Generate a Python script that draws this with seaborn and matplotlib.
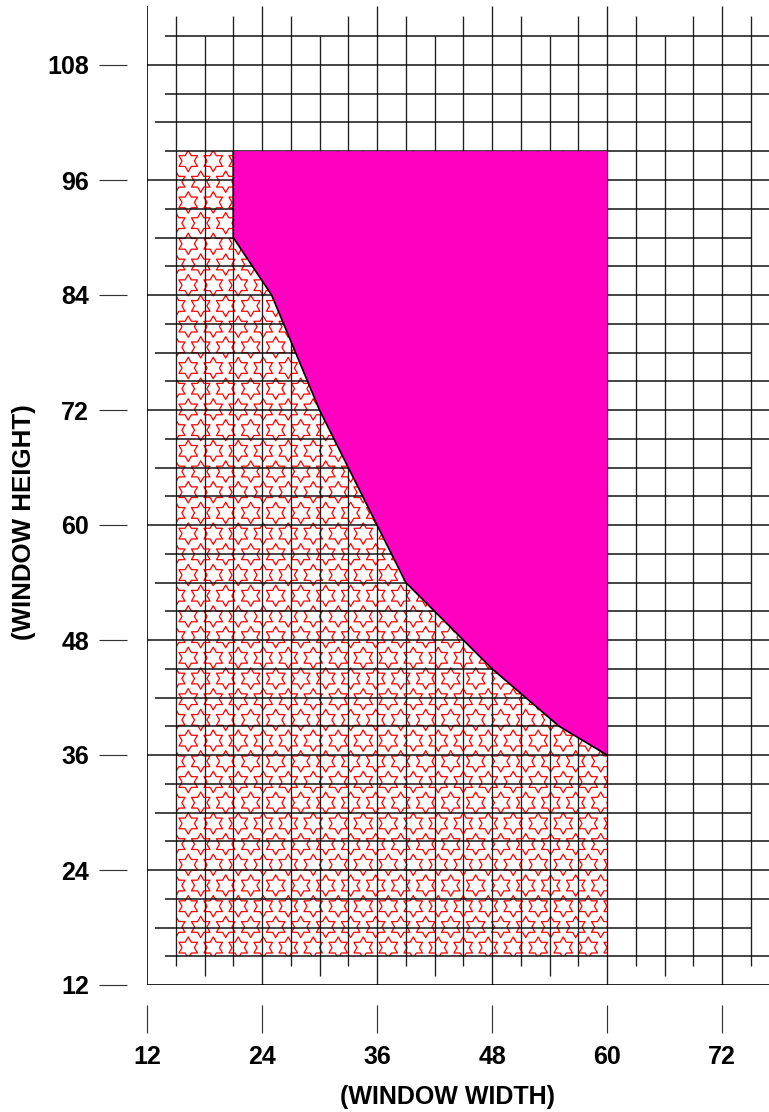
import numpy as np
import matplotlib
matplotlib.use("Agg")
import matplotlib.pyplot as plt
from matplotlib.path import Path
from matplotlib.patches import Rectangle
import seaborn as sns

# boundary of the magenta region (window width vs window height)
width_pts = [21, 21, 25, 30, 39, 48, 55, 60]
height_pts = [99, 90, 84, 72, 54, 45, 39, 36]
top_height = 99

# star-hatched block
hatch_x0, hatch_x1 = 15, 60
hatch_y0, hatch_y1 = 15, 99

x_ticks = [12, 24, 36, 48, 60, 72]
y_ticks = [12, 24, 36, 48, 60, 72, 84, 96, 108]

sns.set_style("white")
plt.rcParams['font.family'] = ['Liberation Sans', 'DejaVu Sans']
plt.rcParams['text.color'] = 'black'

W, H, DPI = 769, 1112, 120
fig = plt.figure(figsize=(W / DPI, H / DPI), dpi=DPI)
ppu = 115 / 12.0  # pixels per data unit
ax = fig.add_axes([147 / W, 127 / H, 622 / W, 979 / H])
xmax = 12 + 622 / ppu
ymax = 12 + 979 / ppu
ax.set_xlim(12, xmax)
ax.set_ylim(12, ymax)

# six-pointed star outline used as fill pattern
ang = np.pi / 2 + np.arange(12) * np.pi / 6
rad = np.where(np.arange(12) % 2 == 0, 1.0, 1 / np.sqrt(3))
verts = np.column_stack([rad * np.cos(ang), rad * np.sin(ang)])
star = Path(np.vstack([verts, verts[:1]]), closed=True)

rect = Rectangle((hatch_x0, hatch_y0), hatch_x1 - hatch_x0, hatch_y1 - hatch_y0,
                 facecolor='white', lw=0, zorder=1)
ax.add_patch(rect)
dx, dy = 25 / ppu, 20.7 / ppu
sx, sy = [], []
for i, yy in enumerate(np.arange(hatch_y0 + 0.9, hatch_y1 + dy, dy)):
    off = 0 if i % 2 == 0 else dx / 2
    for xx in np.arange(hatch_x0 + 1.3 + off - dx, hatch_x1 + dx, dx):
        sx.append(xx)
        sy.append(yy)
stars = ax.scatter(sx, sy, marker=star, s=165, facecolors='none',
                   edgecolors='red', linewidths=0.75, zorder=1.5)
stars.set_clip_path(rect)

# grid with staggered line ends
for x in np.arange(15, 76, 3):
    if x % 12 == 0:
        y0, y1 = 12, ymax
    elif x % 12 == 6:
        y0, y1 = 12.9, 111
    else:
        y0, y1 = 14, 113.1
    ax.vlines(x, y0, y1, color='0.12', lw=0.8, zorder=2)
for y in np.arange(15, 112, 3):
    if y % 12 == 0:
        x0, x1 = 12, xmax
    elif y % 12 == 6:
        x0, x1 = 12.85, 75
    else:
        x0, x1 = 13.9, xmax
    ax.hlines(y, x0, x1, color='0.05', lw=0.9, zorder=2)

# frame lines
ax.vlines(12, 12, ymax, color='black', lw=1.0, zorder=2)
ax.hlines(12, 12, xmax, color='black', lw=1.0, zorder=2)

# magenta region
ax.fill(width_pts + [60], height_pts + [top_height], color='#ff00c0',
        lw=0, zorder=3)
sns.lineplot(x=width_pts, y=height_pts, sort=False, estimator=None,
             color='black', lw=1.0, ax=ax, zorder=4)

for s in ['top', 'right']:
    ax.spines[s].set_visible(False)
for s in ['left', 'bottom']:
    ax.spines[s].set_position(('outward', 12))
    ax.spines[s].set_color('none')

ax.set_xticks(x_ticks)
ax.set_yticks(y_ticks)
ax.tick_params(axis='both', direction='out', length=16.8, width=0.7,
               color='0.2', labelsize=15, labelcolor='black',
               bottom=True, left=True)
ax.tick_params(axis='y', pad=6)
ax.tick_params(axis='x', pad=7)
for lab in ax.get_xticklabels() + ax.get_yticklabels():
    lab.set_fontweight('bold')
ax.set_xlabel('')
ax.set_ylabel('')

fig.text(447 / W, 1 - 1097 / H, '(WINDOW WIDTH)', ha='center', va='center',
         fontsize=15, fontweight='bold', color='black')
fig.text(24 / W, 1 - 522 / H, '(WINDOW HEIGHT)', ha='center', va='center',
         rotation=90, fontsize=15.5, fontweight='bold', color='black')

fig.savefig('out.png', dpi=DPI)
